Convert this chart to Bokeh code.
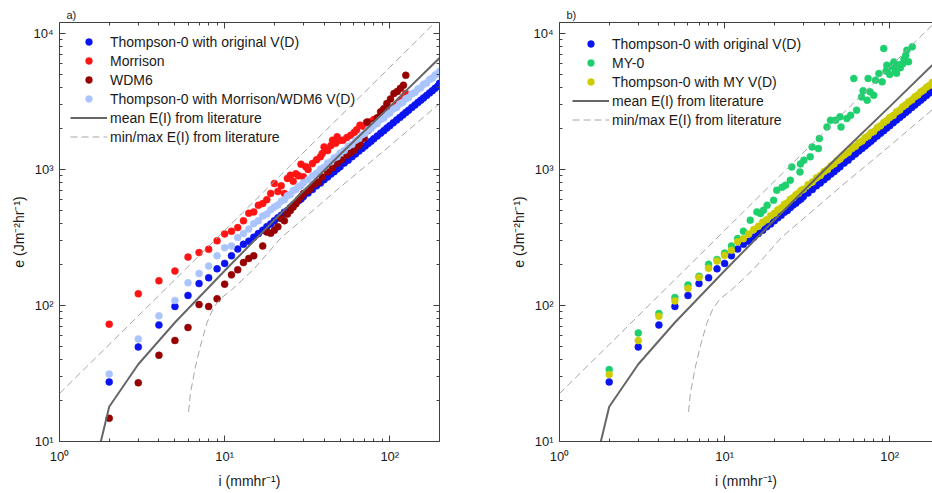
from bokeh.plotting import figure
from bokeh.models import LogAxis, FixedTicker, Legend, LegendItem, Range1d
from bokeh.layouts import row
from bokeh.embed import file_html
from bokeh.resources import INLINE

# ---------------- data ----------------
# Thompson-0 with original V(D)  (both panels)
thom_i = [2, 3, 4, 5, 6, 7, 8, 9, 10, 11, 12, 13, 14, 15, 16, 17, 18, 19, 20, 21, 22, 23, 24, 25, 26, 27, 28, 29, 30,
          32, 34, 36, 38, 40, 42, 44, 46, 48, 50, 53, 56, 59, 62, 65, 68, 71, 74, 77, 80, 84, 88, 92, 96, 100,
          105, 110, 115, 120, 125, 130, 136, 142, 148, 154, 160, 167, 174, 181, 188, 195, 200]
thom_e = [27.4, 49.6, 71.9, 98.4, 118.6, 145, 160, 186, 204, 232, 260, 282, 297, 318, 338, 357, 380, 398, 420, 441,
          460, 485, 500, 525, 548, 566, 590, 606, 632, 672, 712, 758, 795, 842, 880, 925, 964, 1010, 1048, 1115,
          1172, 1240, 1300, 1366, 1428, 1490, 1556, 1615, 1682, 1762, 1850, 1930, 2018, 2100, 2205, 2312, 2415,
          2520, 2628, 2730, 2860, 2980, 3110, 3235, 3360, 3505, 3655, 3800, 3950, 4095, 4300]

# Morrison
morr_i = [2, 3, 4, 5, 6, 7, 8, 9, 10, 11, 12, 13, 14, 15, 16, 17, 18, 19, 20, 21, 22, 23, 24, 25, 26, 27, 28, 29, 30,
          31, 32, 34, 36, 38, 39, 40, 42, 44, 45, 47, 48, 50, 52, 55, 58, 61, 63, 66, 69, 72, 76, 80, 84, 88, 92,
          96, 100, 106, 111, 116, 121, 125]
morr_e = [72.8, 122, 152, 179, 227, 245, 259, 299, 336, 351, 374, 420, 476, 488, 546, 562, 600, 667, 789, 690, 760,
          667, 860, 908, 820, 930, 900, 1094, 883, 1050, 1000, 1107, 1180, 1240, 1312, 1466, 1380, 1500, 1641,
          1560, 1738, 1640, 1641, 1720, 1787, 1880, 1960, 2117, 2080, 2200, 2240, 2330, 2373, 2480, 2583, 2680,
          2780, 2884, 3050, 3236, 3420, 3624]

# WDM6
wdm_i = [2, 3, 4, 5, 6, 7, 8, 9, 10, 11, 12, 13, 14, 15, 17, 18, 19, 20, 21, 22, 23, 24, 25, 26, 27, 28, 29, 30, 32,
         33, 35, 37, 39, 42, 45, 48, 51, 55, 58, 61, 64, 66, 70, 73, 74, 77, 80, 84, 88, 92, 96, 101, 106, 111,
         116, 121, 125]
wdm_e = [14.8, 27, 43.1, 55.3, 68.9, 101.6, 98.4, 112, 143.5, 168, 183, 207, 222, 232, 274, 347, 340, 358, 380, 436,
         420, 470, 500, 531, 560, 600, 630, 667, 700, 725, 780, 811, 880, 960, 1030, 1107, 1180, 1274, 1330, 1387,
         1480, 1553, 1700, 2239, 1944, 2050, 2178, 2400, 2655, 2800, 3055, 3300, 3624, 3750, 3950, 4170, 4930]

# Thompson-0 with Morrison/WDM6 V(D)
tmw_i = [2, 3, 4, 5, 6, 7, 8, 9, 10, 11, 12, 13, 14, 15, 16, 17, 18, 19, 20, 21, 22, 23, 24, 25, 26, 27, 28, 29, 30,
         32, 34, 36, 38, 40, 42, 44, 46, 48, 50, 53, 56, 59, 62, 65, 68, 71, 74, 77, 80, 84, 88, 92, 96, 100, 105,
         110, 115, 120, 125, 130, 136, 142, 148, 154, 160, 167, 174, 181, 188, 195, 200]
tmw_e = [31.3, 56.8, 83.9, 109, 147, 172, 195, 232, 266, 274, 316, 338, 365, 400, 420, 455, 470, 505, 530, 548, 585,
         600, 640, 655, 700, 712, 750, 760, 800, 840, 900, 940, 1005, 1040, 1115, 1140, 1215, 1240, 1320, 1380,
         1480, 1530, 1640, 1690, 1800, 1850, 1960, 2000, 2120, 2180, 2330, 2390, 2540, 2600, 2780, 2860, 3040,
         3120, 3310, 3380, 3600, 3690, 3910, 4000, 4230, 4330, 4600, 4700, 4960, 5050, 5250]

# MY-0
my_i = [2, 3, 4, 5, 6, 7, 8, 9, 10, 11, 12, 13, 14.3, 15.7, 16.5, 17.2, 18.1, 19.8, 20.7, 22.3, 23.4, 25, 25.5, 28.6,
        28.8, 30.2, 33, 33.9, 37, 37.5, 41.7, 43.8, 47, 50, 50.7, 55, 58, 60.6, 63, 67.5, 69, 73, 74, 76, 80, 82,
        86, 90, 92, 95, 96, 98, 100, 103, 106, 108, 110, 113, 116, 120, 122, 125, 127, 130, 137]
my_e = [33.8, 62.9, 87.3, 114.5, 141.6, 164, 201, 218, 243, 274, 311, 352, 424, 488, 475, 502, 546, 594, 705, 740,
        767, 834, 1045, 960, 1100, 1170, 1240, 1466, 1425, 1690, 2056, 2300, 2300, 2438, 2056, 2372, 2505, 4670,
        2729, 3420, 3800, 3236, 4670, 3724, 3516, 4540, 5080, 4410, 7760, 5300, 5850, 5600, 5000, 5800, 6185,
        5400, 5100, 5900, 5600, 6000, 6500, 6920, 7540, 6200, 7980]

# Thompson-0 with MY V(D)
tmy_i = [2, 3, 4, 5, 6, 7, 8, 9, 10, 11, 12, 13, 14, 15, 16, 17, 18, 19, 20, 21, 22, 23, 24, 25, 26, 27, 28, 29, 30,
         32, 34, 36, 38, 40, 42, 44, 46, 48, 50, 53, 56, 59, 62, 65, 68, 71, 74, 77, 80, 84, 88, 92, 96, 100, 105,
         110, 115, 120, 125, 130, 136, 142, 148, 154, 160, 167, 174, 181, 188]
tmy_e = [31.1, 55.3, 83.4, 108, 134, 161, 188, 212, 234, 255, 294, 310, 335, 362, 382, 410, 428, 458, 476, 505, 522,
         555, 570, 604, 620, 652, 668, 702, 716, 772, 810, 868, 905, 965, 1000, 1062, 1100, 1160, 1195, 1280, 1335,
         1425, 1480, 1570, 1620, 1715, 1765, 1860, 1905, 2030, 2100, 2220, 2290, 2415, 2500, 2655, 2740, 2900,
         2990, 3140, 3250, 3430, 3530, 3720, 3820, 4030, 4150, 4370, 4480]

# literature curves
mean_i = [1.78, 2, 3, 5, 10, 20, 50, 100, 200]
mean_e = [10, 18, 37, 75, 180, 425, 1290, 2900, 6600]
max_i = [1, 10, 100, 200]
max_e = [22.5, 356, 5650, 13000]
min_i = [6.05, 6.2, 6.64, 7.12, 7.8, 8.5, 9.4, 11, 15, 22, 50, 100, 200]
min_e = [16.5, 22.5, 35, 50, 74, 95, 112, 130, 185, 315, 740, 1490, 3050]

x_major = [1, 10, 100]
x_minor = [2, 3, 4, 5, 6, 7, 8, 9, 20, 30, 40, 50, 60, 70, 80, 90, 200]
y_major = [10, 100, 1000, 10000]
y_minor = [m * d for d in (10, 100, 1000) for m in range(2, 10)]
x_labels = {1: "10⁰", 10: "10¹", 100: "10²"}
y_labels = {10: "10¹", 100: "10²", 1000: "10³", 10000: "10⁴"}

FONT = "Liberation Sans"
AX = "#404040"
TXT = "#1a1a1a"

BLUE = "#0a14f0"
RED = "#ff1414"
DRED = "#960000"
LBLUE = "#aac4ff"
GREEN = "#1ecf6e"
YELLOW = "#cccc00"
MEANC = "#666666"
DASHC = "#a6a6a6"


def style_axis(ax, major, minor, labels, show_labels):
    ax.ticker = FixedTicker(ticks=major, minor_ticks=minor)
    ax.axis_line_color = AX
    ax.major_tick_line_color = AX
    ax.minor_tick_line_color = AX
    ax.major_tick_in = 6
    ax.major_tick_out = 0
    ax.minor_tick_in = 3
    ax.minor_tick_out = 0
    if show_labels:
        ax.major_label_overrides = labels
        ax.major_label_text_font = FONT
        ax.major_label_text_font_size = "13px"
        ax.major_label_text_color = TXT
        ax.axis_label_text_font = FONT
        ax.axis_label_text_font_size = "14px"
        ax.axis_label_text_font_style = "normal"
        ax.axis_label_text_color = TXT
    else:
        ax.major_label_overrides = {t: "" for t in major}
        ax.major_label_text_font_size = "1px"
        ax.major_label_standoff = 0


def make_panel(title, xmax, width, border_right, right_axis):
    p = figure(width=width, height=493, x_axis_type="log", y_axis_type="log",
               x_range=Range1d(1, xmax), y_range=Range1d(10, 12050),
               output_backend="svg", toolbar_location=None,
               min_border_left=59, min_border_right=border_right,
               min_border_top=22, min_border_bottom=52)
    p.outline_line_color = None
    p.grid.visible = False
    p.background_fill_color = "white"
    p.border_fill_color = "white"
    p.title.text = title
    p.title.text_font = FONT
    p.title.text_font_size = "11px"
    p.title.text_font_style = "normal"
    p.title.text_color = TXT
    p.title.align = "left"
    p.title.offset = 7
    p.title.standoff = 4

    xa = p.xaxis[0]
    style_axis(xa, x_major, x_minor, x_labels, True)
    xa.axis_label = "i (mmhr⁻¹)"
    xa.major_label_standoff = 7
    xa.axis_label_standoff = 6
    ya = p.yaxis[0]
    style_axis(ya, y_major, y_minor, y_labels, True)
    ya.axis_label = "e (Jm⁻²hr⁻¹)"
    ya.major_label_standoff = 6
    ya.axis_label_standoff = 3

    top = LogAxis()
    style_axis(top, x_major, x_minor, x_labels, False)
    p.add_layout(top, "above")
    if right_axis:
        ra = LogAxis()
        style_axis(ra, y_major, y_minor, y_labels, False)
        p.add_layout(ra, "right")
    return p


def add_lines(p):
    rmean = p.line(mean_i, mean_e, line_color=MEANC, line_width=2)
    rmax = p.line(max_i, max_e, line_color=DASHC, line_width=1, line_dash="7 4")
    p.line(min_i, min_e, line_color=DASHC, line_width=1, line_dash="7 4")
    return rmean, rmax


def dots(p, xs, ys, color):
    return p.scatter(xs, ys, marker="circle", size=7, fill_color=color, line_color=color, line_width=0.5)


def make_legend(p, items, margin):
    lg = Legend(items=items, location="top_left")
    lg.border_line_color = None
    lg.background_fill_alpha = 0
    lg.label_text_font = FONT
    lg.label_text_font_size = "14px"
    lg.label_text_color = TXT
    lg.glyph_width = 37
    lg.glyph_height = 17
    lg.label_height = 17
    lg.spacing = 2
    lg.padding = 0
    lg.margin = margin
    lg.label_standoff = 3
    p.add_layout(lg)


# ---------------- panel a ----------------
pa = make_panel("a)", 200, 500, 61, True)
r_b = dots(pa, thom_i, thom_e, BLUE)
r_r = dots(pa, morr_i, morr_e, RED)
r_d = dots(pa, wdm_i, wdm_e, DRED)
r_l = dots(pa, tmw_i, tmw_e, LBLUE)
m1, d1 = add_lines(pa)
make_legend(pa, [
    LegendItem(label="Thompson-0 with original V(D)", renderers=[r_b]),
    LegendItem(label="Morrison", renderers=[r_r]),
    LegendItem(label="WDM6", renderers=[r_d]),
    LegendItem(label="Thompson-0 with Morrison/WDM6 V(D)", renderers=[r_l]),
    LegendItem(label="mean E(I) from literature", renderers=[m1]),
    LegendItem(label="min/max E(I) from literature", renderers=[d1]),
], 11)

# ---------------- panel b ----------------
xmax_b = 10 ** (373 / 165.1)
pb = make_panel("b)", xmax_b, 432, 0, False)
s_b = dots(pb, thom_i, thom_e, BLUE)
s_g = dots(pb, my_i, my_e, GREEN)
s_y = dots(pb, tmy_i, tmy_e, YELLOW)
m2, d2 = add_lines(pb)
make_legend(pb, [
    LegendItem(label="Thompson-0 with original V(D)", renderers=[s_b]),
    LegendItem(label="MY-0", renderers=[s_g]),
    LegendItem(label="Thompson-0 with MY V(D)", renderers=[s_y]),
    LegendItem(label="mean E(I) from literature", renderers=[m2]),
    LegendItem(label="min/max E(I) from literature", renderers=[d2]),
], 13)

layout = row(pa, pb)
open("out.html", "w").write(file_html(layout, INLINE))
